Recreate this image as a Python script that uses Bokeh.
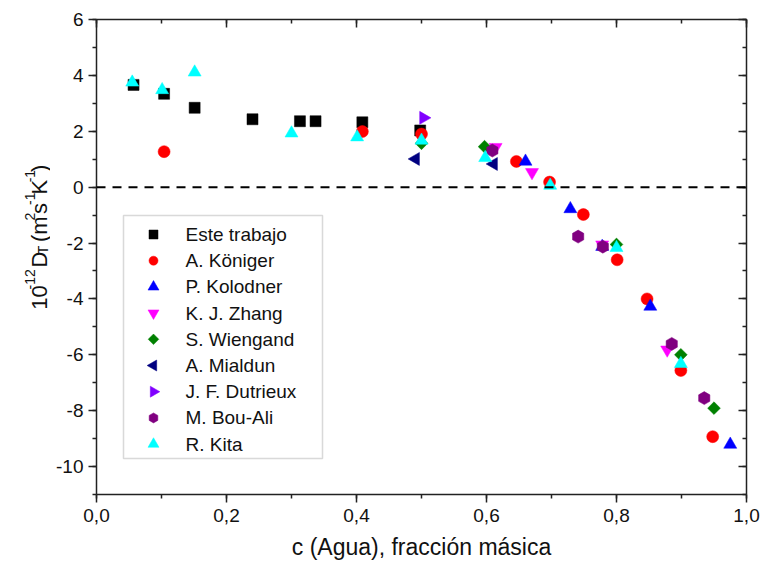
import numpy as np
from bokeh.plotting import figure
from bokeh.layouts import row
from bokeh.models import (Range1d, LinearAxis, SingleIntervalTicker, CustomJSTickFormatter,
                          Span, Label, BoxAnnotation, ColumnDataSource)
from bokeh.core.properties import value
from bokeh.embed import file_html
from bokeh.resources import INLINE

FONT = "Liberation Sans"

# Thermodiffusion coefficient D_T (1e-12 m^2 s^-1 K^-1) vs water mass fraction
este_x = [0.057, 0.104, 0.151, 0.240, 0.313, 0.337, 0.409, 0.498]
este_y = [3.66, 3.34, 2.84, 2.43, 2.36, 2.36, 2.32, 2.03]

koniger_x = [0.104, 0.409, 0.500, 0.646, 0.697, 0.749, 0.801, 0.847, 0.899, 0.948]
koniger_y = [1.27, 1.99, 1.90, 0.92, 0.18, -0.98, -2.60, -4.00, -6.56, -8.93]

kolodner_x = [0.660, 0.729, 0.778, 0.852, 0.975]
kolodner_y = [0.92, -0.78, -2.13, -4.27, -9.21]

zhang_x = [0.614, 0.670, 0.778, 0.878]
zhang_y = [1.43, 0.53, -2.06, -5.82]

wiegand_x = [0.500, 0.597, 0.800, 0.899, 0.950]
wiegand_y = [1.57, 1.45, -2.05, -6.00, -7.91]

mialdun_x = [0.491, 0.611]
mialdun_y = [1.01, 0.83]

dutrieux_x = [0.503]
dutrieux_y = [2.48]

bouali_x = [0.609, 0.741, 0.779, 0.885, 0.935]
bouali_y = [1.31, -1.77, -2.13, -5.61, -7.55]

kita_x = [0.055, 0.101, 0.151, 0.300, 0.401, 0.500, 0.598, 0.698, 0.800, 0.899]
kita_y = [3.75, 3.48, 4.11, 1.93, 1.79, 1.67, 1.05, 0.06, -2.17, -6.32]

# name, x, y, marker, colour, rotation, plot size, legend size
series = [
    ("Este trabajo", este_x, este_y, "square", "#000000", 0.0, 11, 9),
    ("A. Königer", koniger_x, koniger_y, "circle", "#FF0000", 0.0, 12, 9),
    ("P. Kolodner", kolodner_x, kolodner_y, "triangle", "#0000FF", 0.0, 13, 11),
    ("K. J. Zhang", zhang_x, zhang_y, "inverted_triangle", "#FF00FF", 0.0, 13, 11),
    ("S. Wiengand", wiegand_x, wiegand_y, "square", "#008000", np.pi / 4, 9, 7.5),
    ("A. Mialdun", mialdun_x, mialdun_y, "triangle", "#000080", np.pi / 2, 13, 11),
    ("J. F. Dutrieux", dutrieux_x, dutrieux_y, "triangle", "#8000FF", -np.pi / 2, 13, 11),
    ("M. Bou-Ali", bouali_x, bouali_y, "hex", "#800080", np.pi / 2, 13, 10),
    ("R. Kita", kita_x, kita_y, "triangle", "#00FFFF", 0.0, 13, 11),
]

LABEL_W = 50          # width of the strip holding the rotated y title
TOTAL_W, TOTAL_H = 761, 570
FRAME_L, FRAME_R, FRAME_T, FRAME_B = 96, 746, 19, 494
X0, X1, Y0, Y1 = 0.0, 1.0, -11.0, 6.0

p = figure(width=TOTAL_W - LABEL_W, height=TOTAL_H, output_backend="svg", toolbar_location=None,
           x_range=Range1d(X0, X1), y_range=Range1d(Y0, Y1),
           min_border_left=FRAME_L - LABEL_W, min_border_right=TOTAL_W - FRAME_R,
           min_border_top=FRAME_T, min_border_bottom=TOTAL_H - FRAME_B)
p.grid.visible = False
p.outline_line_color = None
p.background_fill_color = "white"
p.border_fill_color = "white"

xticker = SingleIntervalTicker(interval=0.2, num_minor_ticks=2)
yticker = SingleIntervalTicker(interval=2, num_minor_ticks=2)
xfmt = CustomJSTickFormatter(code="return tick.toFixed(1).replace('.', ',');")
yfmt = CustomJSTickFormatter(code="return tick.toFixed(0);")
blank = CustomJSTickFormatter(code="return '';")


def style_axis(ax, outward=True):
    ax.axis_line_width = 1.5
    ax.axis_line_color = "#222222"
    ax.major_tick_line_width = 1.5
    ax.minor_tick_line_width = 1.5
    ax.major_tick_line_color = "#222222"
    ax.minor_tick_line_color = "#222222"
    if outward:
        ax.major_tick_out, ax.major_tick_in = 8, 0
        ax.minor_tick_out, ax.minor_tick_in = 4, 0
    else:
        ax.major_tick_out, ax.major_tick_in = 0, 8
        ax.minor_tick_out, ax.minor_tick_in = 0, 4
    ax.major_label_text_font = FONT
    ax.major_label_text_font_size = "19px"
    ax.major_label_text_color = "#111111"


xax = p.xaxis[0]
xax.ticker = xticker
xax.formatter = xfmt
style_axis(xax)
xax.major_label_standoff = 6
xax.axis_label = "c (Agua), fracción másica"
xax.axis_label_text_font = FONT
xax.axis_label_text_font_size = "23px"
xax.axis_label_text_font_style = "normal"
xax.axis_label_text_color = "#111111"
xax.axis_label_standoff = 9

yax = p.yaxis[0]
yax.ticker = yticker
yax.formatter = yfmt
style_axis(yax)
yax.major_label_standoff = 5
yax.axis_label = None

top = LinearAxis(ticker=xticker, formatter=blank)
style_axis(top, outward=False)
top.major_label_text_font_size = "0px"
top.major_label_standoff = 0
p.add_layout(top, "above")

right = LinearAxis(ticker=yticker, formatter=blank)
style_axis(right, outward=False)
right.major_label_text_font_size = "0px"
right.major_label_standoff = 0
p.add_layout(right, "right")

# zero reference line
p.add_layout(Span(location=0, dimension="width", line_color="black",
                  line_width=2, line_dash="9 7"))

for name, xs, ys, marker, color, ang, size, _ in series:
    p.scatter(xs, ys, marker=marker, size=size, angle=ang,
              fill_color=color, line_color=color, line_width=0.5)


# ---- legend box, drawn by hand so rotated markers keep their orientation ----
def px_to_x(px):
    return X0 + (px - FRAME_L) / (FRAME_R - FRAME_L) * (X1 - X0)


def px_to_y(py):
    return Y1 - (py - FRAME_T) / (FRAME_B - FRAME_T) * (Y1 - Y0)


LEG_L, LEG_R, LEG_T, LEG_B = 123, 322, 215, 458
ROW0, ROW_STEP = 234.0, 26.2
SYM_X, TXT_X = 153, 185

p.add_layout(BoxAnnotation(left=px_to_x(LEG_L), right=px_to_x(LEG_R),
                           top=px_to_y(LEG_T), bottom=px_to_y(LEG_B),
                           fill_color="white", fill_alpha=1.0,
                           line_color="#808080", line_width=1.5, level="underlay"))

for i, (name, xs, ys, marker, color, ang, size, lsize) in enumerate(series):
    ry = ROW0 + i * ROW_STEP
    p.scatter([px_to_x(SYM_X)], [px_to_y(ry)], marker=marker, size=lsize, angle=ang,
              fill_color=color, line_color=color, line_width=0.5)
    p.add_layout(Label(x=px_to_x(TXT_X), y=px_to_y(ry), text=name,
                       text_align="left", text_baseline="middle",
                       text_font=FONT, text_font_size="19px", text_color="#111111"))

# ---- rotated y-axis title with super/subscripts, in its own strip ----
lab = figure(width=LABEL_W, height=TOTAL_H, output_backend="svg", toolbar_location=None,
             x_range=Range1d(0, LABEL_W), y_range=Range1d(0, TOTAL_H),
             x_axis_type=None, y_axis_type=None, min_border=0)
lab.outline_line_color = None
lab.background_fill_color = "white"
lab.border_fill_color = "white"

ADV = {'1': 0.556, '0': 0.556, '2': 0.556, '-': 0.333, ' ': 0.278, 'D': 0.722,
       'T': 0.611, '(': 0.333, 'm': 0.833, 's': 0.5, 'K': 0.667, ')': 0.333}
MAIN, SCRIPT = 22, 14
pieces = [("10", "n"), ("-12", "sup"), (" D", "n"), ("T", "sub"), (" (m", "n"),
          ("2", "sup"), ("s", "n"), ("-1", "sup"), ("K", "n"), ("-1", "sup"), (")", "n")]


def width_of(txt, kind):
    fs = MAIN if kind == "n" else SCRIPT
    return sum(ADV[c] for c in txt) * fs


total = sum(width_of(t, k) for t, k in pieces)
center_y = 262.0
base_x = 38.5
shift = {"n": 0.0, "sup": -9.0, "sub": 4.0}
pos = TOTAL_H - (center_y + total / 2)
cols = {"n": dict(x=[], y=[], t=[]), "s": dict(x=[], y=[], t=[])}
for txt, kind in pieces:
    key = "n" if kind == "n" else "s"
    body = txt.lstrip(" ")
    lead = width_of(txt[:len(txt) - len(body)], kind)
    cols[key]["x"].append(base_x + shift[kind])
    cols[key]["y"].append(pos + lead)
    cols[key]["t"].append(body)
    pos += width_of(txt, kind)

for key, fs in (("n", MAIN), ("s", SCRIPT)):
    src = ColumnDataSource(cols[key])
    lab.text(x="x", y="y", text="t", source=src, angle=np.pi / 2,
             text_align="left", text_baseline="alphabetic",
             text_font=value(FONT), text_font_size=value(f"{fs}px"), text_color="#111111")

layout = row(lab, p)
open("out.html", "w").write(file_html(layout, INLINE))
